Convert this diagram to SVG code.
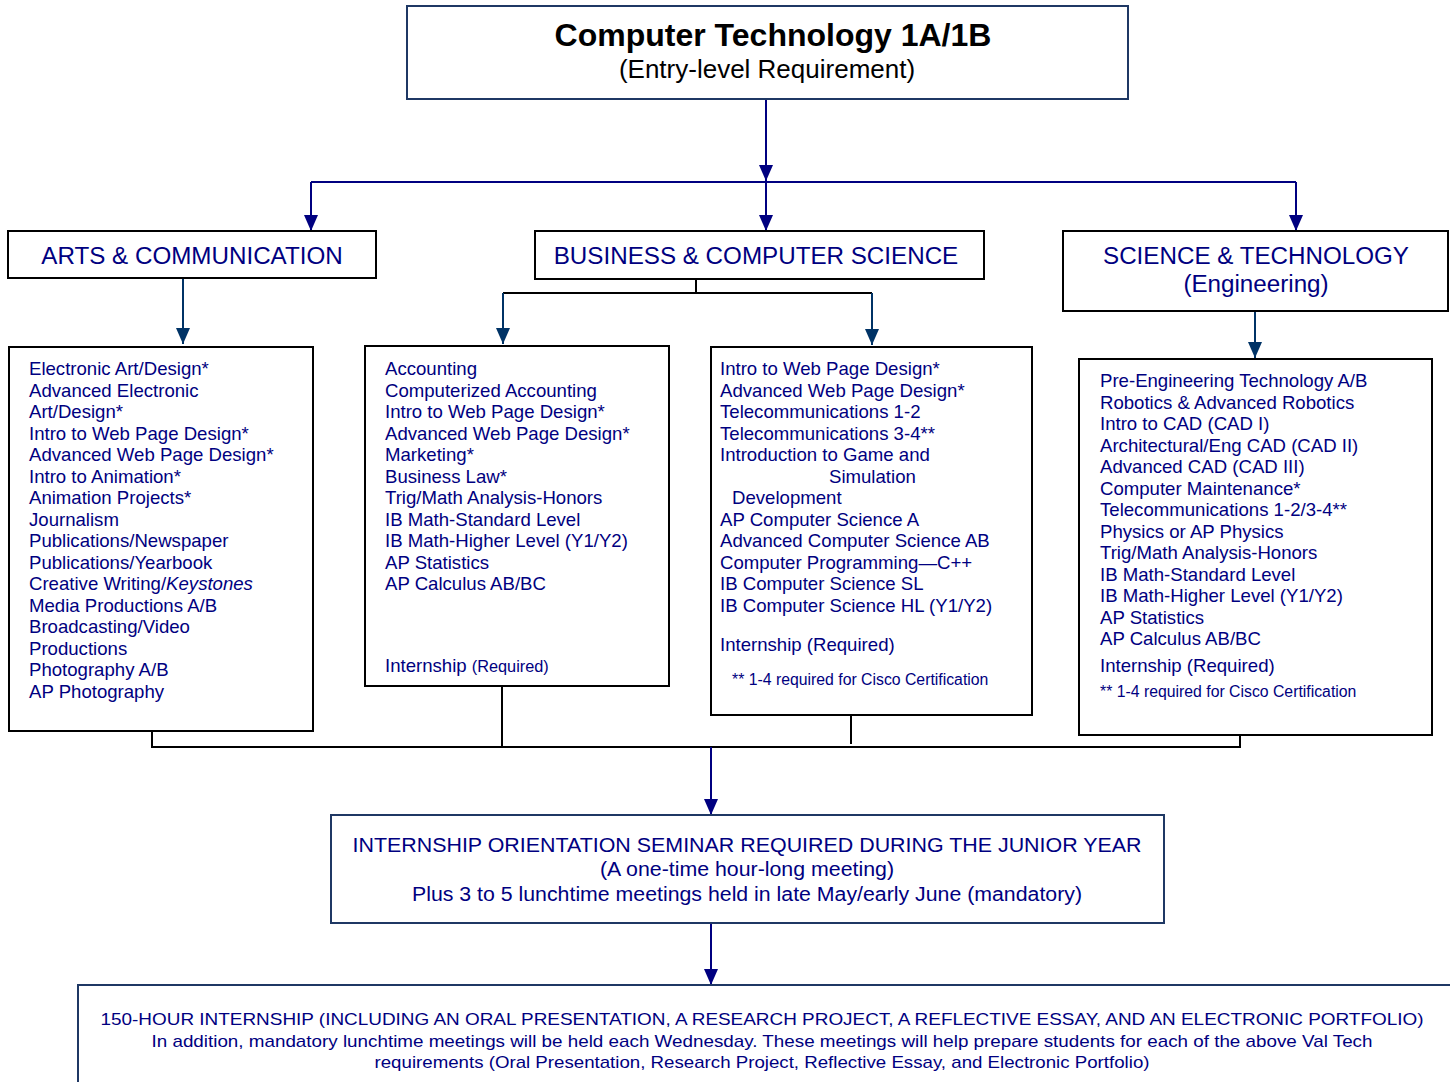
<svg xmlns="http://www.w3.org/2000/svg" width="1450" height="1082" viewBox="0 0 1450 1082">
<style>
text{font-family:"Liberation Sans",Arial,sans-serif;fill:#000080}
.t{font-size:32px;font-weight:bold;fill:#000;text-anchor:middle}
.st{font-size:26px;fill:#000;text-anchor:middle}
.h{font-size:24.2px;text-anchor:middle}
.l{font-size:18.6px}
.fn{font-size:15.8px}
.sem{font-size:20px;text-anchor:middle}
.bot{font-size:17px;text-anchor:middle}
.bx{fill:#fff;stroke:#000;stroke-width:2}
.bb{fill:#fff;stroke:#1f3864;stroke-width:2}
.a1{fill:none;stroke:#000080;stroke-width:2}
.a2{fill:none;stroke:#003366;stroke-width:2}
.k{fill:none;stroke:#000;stroke-width:2}
</style>
<defs>
<marker id="an" markerUnits="userSpaceOnUse" markerWidth="16" markerHeight="14" viewBox="0 0 16 14" refX="16" refY="7" orient="auto"><path d="M0,0 L16,7 L0,14 z" fill="#000080"/></marker>
<marker id="ad" markerUnits="userSpaceOnUse" markerWidth="16" markerHeight="14" viewBox="0 0 16 14" refX="16" refY="7" orient="auto"><path d="M0,0 L16,7 L0,14 z" fill="#003366"/></marker>
</defs>
<rect width="1450" height="1082" fill="#fff"/>

<g id="connectors">
<path class="a1" d="M766,100 V181" marker-end="url(#an)"/>
<path class="a1" d="M311,182 H1296"/>
<path class="a1" d="M311,182 V231" marker-end="url(#an)"/>
<path class="a1" d="M766,182 V231" marker-end="url(#an)"/>
<path class="a1" d="M1296,182 V231" marker-end="url(#an)"/>
<path class="a2" d="M183,279 V344" marker-end="url(#ad)"/>
<path class="k" d="M696,279 V293 M503,293 H872"/>
<path class="a2" d="M503,293 V344" marker-end="url(#ad)"/>
<path class="a2" d="M872,293 V345" marker-end="url(#ad)"/>
<path class="a2" d="M1255,312 V358" marker-end="url(#ad)"/>
<path class="k" d="M152,731 V747 H1240 V731 M502,686 V747 M851,711 V744"/>
<path class="a1" d="M711,747 V815" marker-end="url(#an)"/>
<path class="a1" d="M711,923 V985" marker-end="url(#an)"/>
</g>

<g id="entry">
<rect class="bb" x="407" y="6" width="721" height="93"/>
<text class="t" x="773" y="46">Computer Technology 1A/1B</text>
<text class="st" x="767" y="78">(Entry-level Requirement)</text>
</g>

<g id="arts-header">
<rect class="bx" x="8" y="231" width="368" height="47"/>
<text class="h" x="192" y="264">ARTS &amp; COMMUNICATION</text>
</g>
<g id="business-header">
<rect class="bx" x="535" y="231" width="449" height="48"/>
<text class="h" x="756" y="264">BUSINESS &amp; COMPUTER SCIENCE</text>
</g>
<g id="science-header">
<rect class="bx" x="1063" y="231" width="385" height="80"/>
<text class="h" x="1256" y="264">SCIENCE &amp; TECHNOLOGY</text>
<text class="h" x="1256" y="292">(Engineering)</text>
</g>

<g id="arts-list">
<rect class="bx" x="9" y="347" width="304" height="384"/>
<text class="l" x="29" y="375">Electronic Art/Design*</text>
<text class="l" x="29" y="396.5">Advanced Electronic</text>
<text class="l" x="29" y="418">Art/Design*</text>
<text class="l" x="29" y="439.5">Intro to Web Page Design*</text>
<text class="l" x="29" y="461">Advanced Web Page Design*</text>
<text class="l" x="29" y="482.5">Intro to Animation*</text>
<text class="l" x="29" y="504">Animation Projects*</text>
<text class="l" x="29" y="525.5">Journalism</text>
<text class="l" x="29" y="547">Publications/Newspaper</text>
<text class="l" x="29" y="568.5">Publications/Yearbook</text>
<text class="l" x="29" y="590">Creative Writing/<tspan font-style="italic">Keystones</tspan></text>
<text class="l" x="29" y="611.5">Media Productions A/B</text>
<text class="l" x="29" y="633">Broadcasting/Video</text>
<text class="l" x="29" y="654.5">Productions</text>
<text class="l" x="29" y="676">Photography A/B</text>
<text class="l" x="29" y="697.5">AP Photography</text>
</g>

<g id="business-list">
<rect class="bx" x="365" y="346" width="304" height="340"/>
<text class="l" x="385" y="375">Accounting</text>
<text class="l" x="385" y="396.5">Computerized Accounting</text>
<text class="l" x="385" y="418">Intro to Web Page Design*</text>
<text class="l" x="385" y="439.5">Advanced Web Page Design*</text>
<text class="l" x="385" y="461">Marketing*</text>
<text class="l" x="385" y="482.5">Business Law*</text>
<text class="l" x="385" y="504">Trig/Math Analysis-Honors</text>
<text class="l" x="385" y="525.5">IB Math-Standard Level</text>
<text class="l" x="385" y="547">IB Math-Higher Level (Y1/Y2)</text>
<text class="l" x="385" y="568.5">AP Statistics</text>
<text class="l" x="385" y="590">AP Calculus AB/BC</text>
<text class="l" x="385" y="672">Internship <tspan font-size="16.3px">(Required)</tspan></text>
</g>

<g id="computer-science-list">
<rect class="bx" x="711" y="347" width="321" height="368"/>
<text class="l" x="720" y="375">Intro to Web Page Design*</text>
<text class="l" x="720" y="396.5">Advanced Web Page Design*</text>
<text class="l" x="720" y="418">Telecommunications 1-2</text>
<text class="l" x="720" y="439.5">Telecommunications 3-4**</text>
<text class="l" x="720" y="461">Introduction to Game and</text>
<text class="l" x="829" y="482.5">Simulation</text>
<text class="l" x="732" y="504">Development</text>
<text class="l" x="720" y="525.5">AP Computer Science A</text>
<text class="l" x="720" y="547">Advanced Computer Science AB</text>
<text class="l" x="720" y="568.5">Computer Programming—C++</text>
<text class="l" x="720" y="590">IB Computer Science SL</text>
<text class="l" x="720" y="611.5">IB Computer Science HL (Y1/Y2)</text>
<text class="l" x="720" y="651">Internship (Required)</text>
<text class="fn" x="732" y="685">** 1-4 required for Cisco Certification</text>
</g>

<g id="science-list">
<rect class="bx" x="1079" y="359" width="353" height="376"/>
<text class="l" x="1100" y="387">Pre-Engineering Technology A/B</text>
<text class="l" x="1100" y="408.5">Robotics &amp; Advanced Robotics</text>
<text class="l" x="1100" y="430">Intro to CAD (CAD I)</text>
<text class="l" x="1100" y="451.5">Architectural/Eng CAD (CAD II)</text>
<text class="l" x="1100" y="473">Advanced CAD (CAD III)</text>
<text class="l" x="1100" y="494.5">Computer Maintenance*</text>
<text class="l" x="1100" y="516">Telecommunications 1-2/3-4**</text>
<text class="l" x="1100" y="537.5">Physics or AP Physics</text>
<text class="l" x="1100" y="559">Trig/Math Analysis-Honors</text>
<text class="l" x="1100" y="580.5">IB Math-Standard Level</text>
<text class="l" x="1100" y="602">IB Math-Higher Level (Y1/Y2)</text>
<text class="l" x="1100" y="623.5">AP Statistics</text>
<text class="l" x="1100" y="645">AP Calculus AB/BC</text>
<text class="l" x="1100" y="672">Internship (Required)</text>
<text class="fn" x="1100" y="697">** 1-4 required for Cisco Certification</text>
</g>

<g id="seminar">
<rect class="bb" x="331" y="815" width="833" height="108"/>
<text class="sem" x="747" y="852" textLength="789" lengthAdjust="spacingAndGlyphs">INTERNSHIP ORIENTATION SEMINAR REQUIRED DURING THE JUNIOR YEAR</text>
<text class="sem" x="747" y="876" textLength="294" lengthAdjust="spacingAndGlyphs">(A one-time hour-long meeting)</text>
<text class="sem" x="747" y="901" textLength="670" lengthAdjust="spacingAndGlyphs">Plus 3 to 5 lunchtime meetings held in late May/early June (mandatory)</text>
</g>

<g id="internship">
<rect class="bb" x="78" y="985" width="1380" height="110"/>
<text class="bot" x="762" y="1025" textLength="1323" lengthAdjust="spacingAndGlyphs">150-HOUR INTERNSHIP (INCLUDING AN ORAL PRESENTATION, A RESEARCH PROJECT, A REFLECTIVE ESSAY, AND AN ELECTRONIC PORTFOLIO)</text>
<text class="bot" x="762" y="1047" textLength="1221" lengthAdjust="spacingAndGlyphs">In addition, mandatory lunchtime meetings will be held each Wednesday.  These meetings will help prepare students for each of the above Val Tech</text>
<text class="bot" x="762" y="1068" textLength="775" lengthAdjust="spacingAndGlyphs">requirements (Oral Presentation, Research Project, Reflective Essay, and Electronic Portfolio)</text>
</g>
</svg>
